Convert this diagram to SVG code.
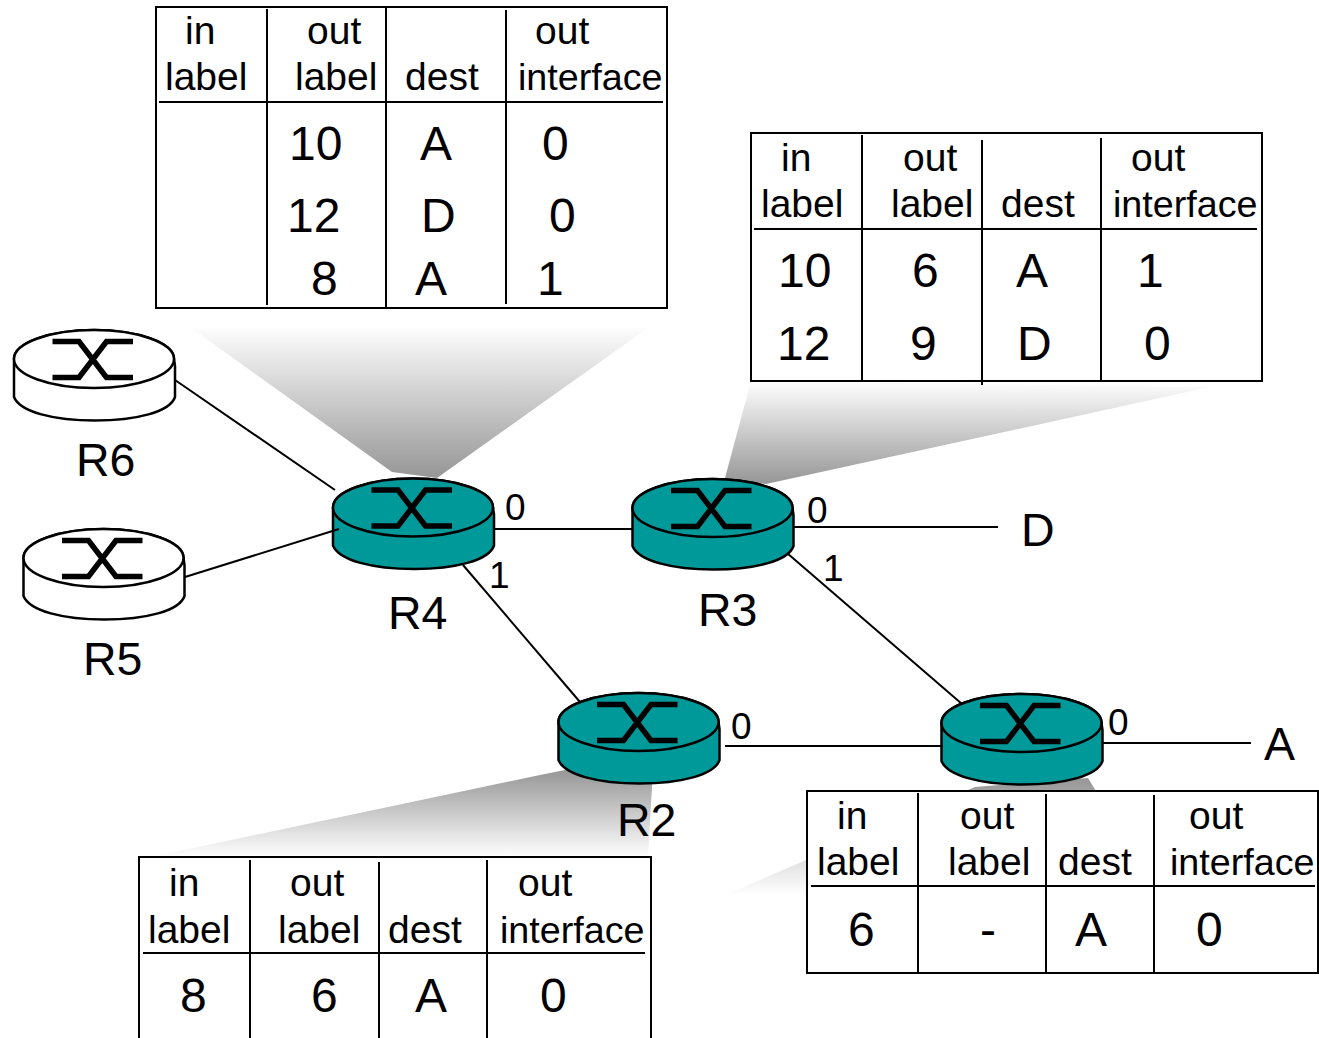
<svg xmlns="http://www.w3.org/2000/svg" width="1319" height="1038" viewBox="0 0 1319 1038">
<style>
text{font-family:"Liberation Sans",Arial,sans-serif;fill:#000}
.h{font-size:39px}
.i{font-size:37.700px}
.v{font-size:48px}
.n{font-size:46.500px}
.p{font-size:37px}
.t{fill:#fff;stroke:#000;stroke-width:2}
.g{fill:none;stroke:#000;stroke-width:2}
.c line{stroke:#000;stroke-width:2}
.teal{fill:#009999}
.white{fill:#fff}
.o{stroke:#000;stroke-width:2.500}
.x{fill:none;stroke:#000;stroke-width:5.500}
</style>
<defs>
<linearGradient id="gd" x1="0" y1="0" x2="0" y2="1"><stop offset="0" stop-color="#fff"/><stop offset="1" stop-color="#969696"/></linearGradient>
<linearGradient id="gu" x1="0" y1="0" x2="0" y2="1"><stop offset="0" stop-color="#969696"/><stop offset="1" stop-color="#fff"/></linearGradient>
<g id="body">
<path class="o" d="M-80,0V38C-74,53-40,61.500,1,61.500C42,61.500,76,53,81,38V7L80,0C80,-16,44,-29,0,-29S-80,-16,-80,0Z"/>
<ellipse class="o" cx="0" cy="0" rx="80" ry="29"/>
<path class="x" d="M-41.500,-17.500H-15L12.500,18.500H39M-41.500,18.500H-15L12.500,-17.500H39"/>
</g>
</defs>
<g id="shadows">
<polygon fill="url(#gd)" points="187,325 652,325 437,478 392,472"/>
<polygon fill="url(#gd)" points="751,381 1210,387 766,484 725,478"/>
<polygon fill="url(#gu)" points="565,770 653,770 648,857 150,857 540,775"/>
<polygon fill="url(#gu)" points="975,787 1088,778 1160,895 725,895"/>
</g>
<g id="R6"><use href="#body" class="white" x="94" y="359"/><text class="n" x="76" y="476">R6</text></g>
<g id="R5"><use href="#body" class="white" x="103.500" y="558"/><text class="n" x="83" y="675">R5</text></g>
<g id="R4"><use href="#body" class="teal" x="413" y="507.500"/><text class="n" x="388" y="629">R4</text></g>
<g id="R3"><use href="#body" class="teal" x="712.500" y="508"/><text class="n" x="698" y="626">R3</text></g>
<g id="R2"><use href="#body" class="teal" x="638.500" y="722"/><text class="n" x="617" y="836">R2</text></g>
<g id="R1"><use href="#body" class="teal" x="1021.500" y="723"/></g>
<g id="connectors" class="c">
<line x1="175" y1="380" x2="335" y2="490"/>
<line x1="185" y1="577" x2="339" y2="529"/>
<line x1="494" y1="529" x2="632" y2="529"/>
<line x1="463" y1="565" x2="580" y2="702"/>
<line x1="793" y1="527" x2="998" y2="527"/>
<line x1="787" y1="553" x2="962" y2="704"/>
<line x1="725" y1="746" x2="943" y2="746"/>
<line x1="1103" y1="743" x2="1251" y2="743"/>
</g>
<g id="port-labels">
<text class="p" x="505" y="520">0</text>
<text class="p" x="489" y="588">1</text>
<text class="p" x="807" y="523">0</text>
<text class="p" x="823" y="581">1</text>
<text class="p" x="731" y="739">0</text>
<text class="p" x="1108" y="735">0</text>
<text class="n" x="1021" y="546">D</text>
<text class="n" x="1264" y="760">A</text>
</g>
<g id="table-R4">
<rect class="t" x="156" y="7" width="511" height="301"/>
<path class="g" d="M267,9V305M386,8V307M506,10V304M159,102H663"/>
<text class="h" x="185" y="44">in</text><text class="h" x="165" y="90">label</text><text class="h" x="307" y="44">out</text><text class="h" x="295" y="90">label</text><text class="h" x="405" y="90">dest</text><text class="h" x="535" y="44">out</text><text class="i" x="518" y="90">interface</text>
<text class="v" x="289" y="160">10</text><text class="v" x="420" y="160">A</text><text class="v" x="542" y="160">0</text>
<text class="v" x="287" y="232">12</text><text class="v" x="421" y="232">D</text><text class="v" x="549" y="232">0</text>
<text class="v" x="311" y="295">8</text><text class="v" x="415" y="295">A</text><text class="v" x="537" y="295">1</text>
</g>
<g id="table-R3">
<rect class="t" x="751" y="133" width="511" height="248"/>
<path class="g" d="M862,135V381M982,140V385M1101,138V381M754,229H1257"/>
<text class="h" x="781" y="171">in</text><text class="h" x="761" y="217">label</text><text class="h" x="903" y="171">out</text><text class="h" x="891" y="217">label</text><text class="h" x="1001" y="217">dest</text><text class="h" x="1131" y="171">out</text><text class="i" x="1113" y="217">interface</text>
<text class="v" x="778" y="287">10</text><text class="v" x="912" y="287">6</text><text class="v" x="1016" y="287">A</text><text class="v" x="1137" y="287">1</text>
<text class="v" x="777" y="360">12</text><text class="v" x="910" y="360">9</text><text class="v" x="1017" y="360">D</text><text class="v" x="1144" y="360">0</text>
</g>
<g id="table-R2">
<rect class="t" x="139" y="857" width="512" height="200"/>
<path class="g" d="M250,860V1038M379,862V1038M487,860V1038M143,953H645"/>
<text class="h" x="169" y="896">in</text><text class="h" x="148" y="943">label</text><text class="h" x="290" y="896">out</text><text class="h" x="278" y="943">label</text><text class="h" x="388" y="943">dest</text><text class="h" x="518" y="896">out</text><text class="i" x="500" y="943">interface</text>
<text class="v" x="180" y="1012">8</text><text class="v" x="311" y="1012">6</text><text class="v" x="415" y="1012">A</text><text class="v" x="540" y="1012">0</text>
</g>
<g id="table-R1">
<rect class="t" x="807" y="791" width="511" height="182"/>
<path class="g" d="M918,793V973M1046,794V973M1154,795V973M811,886H1315"/>
<text class="h" x="837" y="829">in</text><text class="h" x="817" y="875">label</text><text class="h" x="960" y="829">out</text><text class="h" x="948" y="875">label</text><text class="h" x="1058" y="875">dest</text><text class="h" x="1189" y="829">out</text><text class="i" x="1170" y="875">interface</text>
<text class="v" x="848" y="946">6</text><text class="v" x="980" y="946">-</text><text class="v" x="1075" y="946">A</text><text class="v" x="1196" y="946">0</text>
</g>
</svg>
